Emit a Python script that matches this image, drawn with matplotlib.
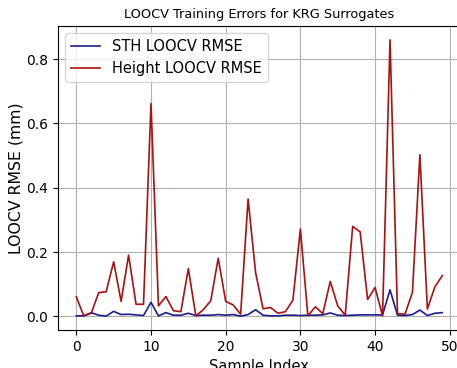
import matplotlib
matplotlib.use("Agg")
import matplotlib.pyplot as plt
import numpy as np

sample_index = list(range(50))
sth_rmse = [0.002, 0.002, 0.012, 0.004, 0.001, 0.016, 0.006, 0.007, 0.005, 0.003,
            0.044, 0.002, 0.012, 0.004, 0.004, 0.010, 0.003, 0.004, 0.004, 0.006,
            0.004, 0.006, 0.001, 0.006, 0.021, 0.004, 0.002, 0.002, 0.004, 0.004,
            0.003, 0.004, 0.004, 0.005, 0.011, 0.004, 0.003, 0.004, 0.005, 0.005,
            0.005, 0.005, 0.083, 0.004, 0.003, 0.006, 0.020, 0.003, 0.010, 0.012]
height_rmse = [0.061, 0.002, 0.010, 0.074, 0.077, 0.170, 0.047, 0.191, 0.038, 0.038,
               0.662, 0.033, 0.062, 0.018, 0.015, 0.149, 0.002, 0.021, 0.049, 0.181,
               0.047, 0.036, 0.007, 0.365, 0.137, 0.024, 0.028, 0.010, 0.015, 0.051,
               0.272, 0.002, 0.030, 0.009, 0.109, 0.033, 0.004, 0.280, 0.263, 0.053,
               0.090, 0.002, 0.860, 0.009, 0.007, 0.075, 0.503, 0.023, 0.092, 0.127]

fig = plt.figure(figsize=(4.57, 3.68), dpi=100)
ax = fig.add_axes([0.1269, 0.1033, 0.881, 0.826])
ax.plot(sample_index, sth_rmse, color="#1c1c8c", lw=1.2, label="STH LOOCV RMSE")
ax.plot(sample_index, height_rmse, color="#aa1010", lw=1.2, label="Height LOOCV RMSE")
ax.set_title("LOOCV Training Errors for KRG Surrogates", fontsize=9.25)
ax.set_xlabel("Sample Index", fontsize=10.5, labelpad=4)
ax.set_ylabel("LOOCV RMSE (mm)", fontsize=11.3, labelpad=2)
ax.tick_params(labelsize=10)
ax.grid(True)
ax.legend(loc="upper left", fontsize=10.5)
fig.savefig("out.png", dpi=100)
